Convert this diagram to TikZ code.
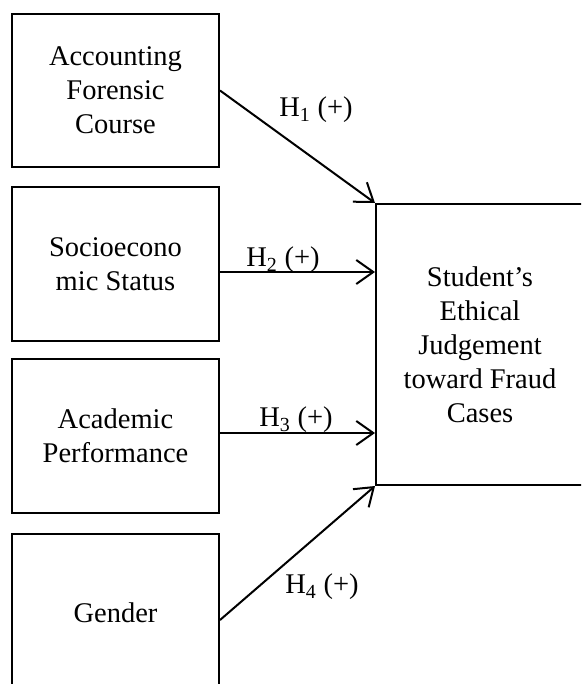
\documentclass[tikz,border=0pt]{standalone}
\usepackage{fontspec}
\setmainfont{Liberation Serif}
\usetikzlibrary{arrows.meta,calc}
\begin{document}
\begin{tikzpicture}[x=1pt,y=-1pt,
  box/.style={draw, line width=2pt, rectangle, inner sep=0pt, align=center,
    font=\fontsize{28.5}{34}\selectfont},
  lbl/.style={font=\fontsize{28.5}{34}\selectfont, inner sep=0pt},
  arr/.style={line width=2pt, -{Straight Barb[length=17pt,width=24pt,line width=2pt]}}]
\useasboundingbox (0,0) rectangle (581,684);
\clip (0,0) rectangle (581,684);
\node[box, minimum width=207, minimum height=153] (b1) at (115.5,90.5) {Accounting\\Forensic\\Course};
\node[box, minimum width=207, minimum height=154] (b2) at (115.5,264) {Socioecono\\mic Status};
\node[box, minimum width=207, minimum height=154] (b3) at (115.5,436) {Academic\\Performance};
\node[box, minimum width=207, minimum height=158] (b4) at (115.5,613) {Gender};
\node[box, minimum width=208, minimum height=281] (t) at (480,344.5) {Student’s\\Ethical\\Judgement\\toward Fraud\\Cases};
\coordinate (s2) at ($(b2.east)+(0,8)$);
\coordinate (s3) at ($(b3.east)+(0,-3)$);
\coordinate (s4) at ($(b4.east)+(0,7)$);
\draw[arr] (b1.east) -- (t.north west);
\draw[arr] (s2) -- (t.west |- s2);
\draw[arr] (s3) -- (t.west |- s3);
\draw[arr] (s4) -- (t.south west);
\node[lbl] (h1) at (316,110) {H\textsubscript{1} (+)};
\node[lbl] (h2) at (283,260) {H\textsubscript{2} (+)};
\node[lbl] (h3) at (296,420) {H\textsubscript{3} (+)};
\node[lbl] (h4) at (322,587) {H\textsubscript{4} (+)};
\end{tikzpicture}
\end{document}
